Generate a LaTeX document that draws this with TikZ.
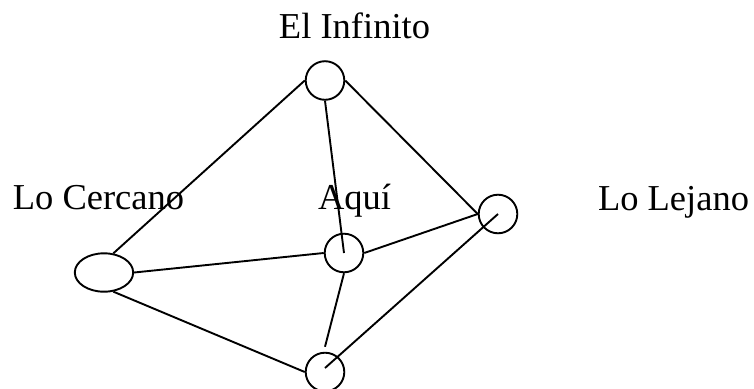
\documentclass[tikz,border=0pt]{standalone}
\usepackage{fontspec}
\setmainfont{Liberation Serif}
\usetikzlibrary{shapes.geometric}
\begin{document}
\begin{tikzpicture}[x=1pt,y=-1pt,
  vert/.style={draw,circle,line width=1.9pt,minimum size=38.6pt,inner sep=0pt},
  vertell/.style={draw,ellipse,line width=1.9pt,minimum width=58.4pt,minimum height=38.4pt,inner sep=0pt},
  lbl/.style={anchor=base,inner sep=0pt,font=\fontsize{36.5}{40}\selectfont},
  edge/.style={line width=1.9pt}]
\useasboundingbox (0,0) rectangle (754,388);
\clip (0,0) rectangle (754,388);
\node[vert] (inf) at (325,80.5) {};
\node[vert] (aqui) at (344,253) {};
\node[vert] (lej) at (498,214) {};
\node[vertell] (cer) at (104,272.5) {};
\node[vert] (bot) at (325,372) {};
\node[lbl] (linf) at (354.5,38) {El Infinito};
\node[lbl] (lcer) at (98.5,209) {Lo Cercano};
\node[lbl] (laqui) at (354.5,209) {Aquí};
\node[lbl] (llej) at (673.5,210) {Lo Lejano};
\draw[edge] (cer.64) -- (inf.west);
\draw[edge] (inf.south) -- (aqui.center);
\draw[edge] (inf.east) -- (lej.west);
\draw[edge] (cer.east) -- (aqui.west);
\draw[edge] (aqui.east) -- (lej.west);
\draw[edge] (lej.center) -- ([yshift=4pt]bot.center);
\draw[edge] (aqui.south) -- ([yshift=5pt]bot.north);
\draw[edge] (cer.-64) -- (bot.west);
\end{tikzpicture}
\end{document}
